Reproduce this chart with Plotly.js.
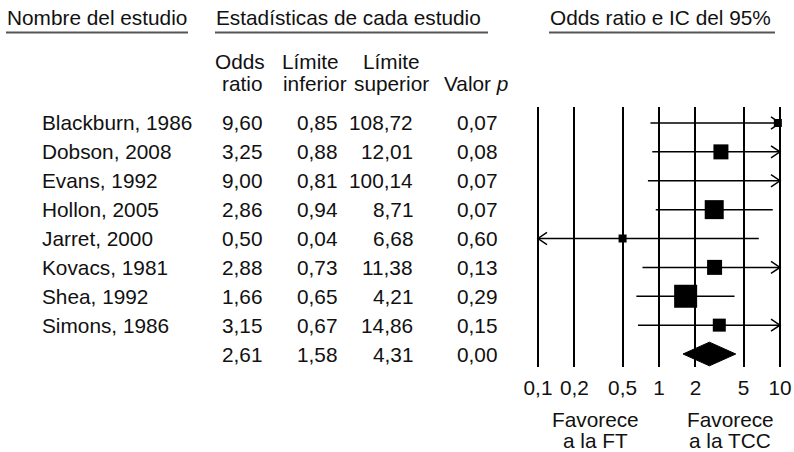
<!DOCTYPE html>
<html>
<head>
<meta charset="utf-8">
<script src="https://cdn.plot.ly/plotly-3.0.1.min.js"></script>
<style>html,body{margin:0;padding:0;background:#fff;}#chart{width:794px;height:452px;}</style>
</head>
<body>
<div id="chart"></div>
<script>
// ---- data ----
const studies = ["Blackburn, 1986", "Dobson, 2008", "Evans, 1992", "Hollon, 2005", "Jarret, 2000", "Kovacs, 1981", "Shea, 1992", "Simons, 1986"];
const oddsRatio = [9.60, 3.25, 9.00, 2.86, 0.50, 2.88, 1.66, 3.15];
const lowerLimit = [0.85, 0.88, 0.81, 0.94, 0.04, 0.73, 0.65, 0.67];
const upperLimit = [108.72, 12.01, 100.14, 8.71, 6.68, 11.38, 4.21, 14.86];
const pValues = [0.07, 0.08, 0.07, 0.07, 0.60, 0.13, 0.29, 0.15];
const summaryOR = 2.61, summaryLower = 1.58, summaryUpper = 4.31, summaryP = 0.00;
const tickVals = [0.1, 0.2, 0.5, 1, 2, 5, 10];
const tickText = ["0,1", "0,2", "0,5", "1", "2", "5", "10"];
const squareSizes = [8, 15, 0, 19, 8, 15, 23, 13];

// ---- helpers / style ----
const W = 794, H = 452;
const FONT = "Liberation Sans, Arial, Helvetica, sans-serif";
const FS = 20.8;
const TXT = "#111";
const px = v => v / W;          // pixel -> paper x
const py = v => 1 - v / H;      // pixel -> paper y
const fmt = v => v.toFixed(2).replace('.', ',');
const xmin = tickVals[0], xmax = tickVals[tickVals.length - 1];
const chevLen = Math.pow(10, 9 / 121);  // ~9 px along log axis
const chevHalf = 0.21;                   // half height in row units
const diamondHalf = 0.41;

const rows = studies.map((_, i) => i);
const summaryRow = studies.length;

// CI segments and chevrons
const segX = [], segY = [], chX = [], chY = [];
rows.forEach(i => {
  segX.push(Math.max(lowerLimit[i], xmin), Math.min(upperLimit[i], xmax), null);
  segY.push(i, i, null);
  if (upperLimit[i] > xmax) {
    chX.push(xmax / chevLen, xmax, xmax / chevLen, null);
    chY.push(i - chevHalf, i, i + chevHalf, null);
  }
  if (lowerLimit[i] < xmin) {
    chX.push(xmin * chevLen, xmin, xmin * chevLen, null);
    chY.push(i - chevHalf, i, i + chevHalf, null);
  }
});

const traces = [
  {x: segX, y: segY, mode: 'lines', line: {color: '#000', width: 1.5}, hoverinfo: 'skip', showlegend: false},
  {x: chX, y: chY, mode: 'lines', line: {color: '#000', width: 1.5}, hoverinfo: 'skip', showlegend: false},
  {x: oddsRatio, y: rows, mode: 'markers', marker: {symbol: 'square', color: '#000', opacity: 1, size: squareSizes, line: {width: 0}}, hoverinfo: 'skip', showlegend: false},
  {x: [summaryLower, summaryOR, summaryUpper, summaryOR, summaryLower],
   y: [summaryRow, summaryRow - diamondHalf, summaryRow, summaryRow + diamondHalf, summaryRow],
   mode: 'lines', fill: 'toself', fillcolor: '#000', line: {color: '#000', width: 1}, hoverinfo: 'skip', showlegend: false}
];

// ---- annotations ----
const ann = [];
const A = (text, x, y, xanchor, yref, extra) => ann.push(Object.assign({
  text: text, x: x, y: y, xref: 'paper', yref: yref || 'paper', xanchor: xanchor, yanchor: 'middle',
  showarrow: false, font: {family: FONT, size: FS, color: TXT}, borderpad: 0
}, extra || {}));

// top headers
A("Nombre del estudio", px(6), py(18), 'left');
A("Estadísticas de cada estudio", px(215), py(18), 'left');
A("Odds ratio e IC del 95%", px(549), py(18), 'left');
// sub headers
A("Odds", px(240), py(61), 'center');
A("ratio", px(242), py(83), 'center');
A("Límite", px(310), py(61), 'center');
A("inferior", px(315), py(83), 'center');
A("Límite", px(391), py(61), 'center');
A("superior", px(391), py(83), 'center');
A("Valor <i>p</i>", px(476), py(83), 'center');

// rows
rows.forEach(i => {
  A(studies[i], px(41), i, 'left', 'y');
  A(fmt(oddsRatio[i]), px(263), i, 'right', 'y');
  A(fmt(lowerLimit[i]), px(338), i, 'right', 'y');
  A(fmt(upperLimit[i]), px(414), i, 'right', 'y');
  A(fmt(pValues[i]), px(498), i, 'right', 'y');
});
A(fmt(summaryOR), px(263), summaryRow, 'right', 'y');
A(fmt(summaryLower), px(338), summaryRow, 'right', 'y');
A(fmt(summaryUpper), px(414), summaryRow, 'right', 'y');
A(fmt(summaryP), px(498), summaryRow, 'right', 'y');

// bottom labels
A("Favorece", px(595), py(419), 'center');
A("a la FT", px(595), py(440), 'center');
A("Favorece", px(730), py(419), 'center');
A("a la TCC", px(730), py(440), 'center');

// underlines
const ul = (x0, x1) => ({type: 'line', xref: 'paper', yref: 'paper', x0: px(x0), x1: px(x1), y0: py(32.5), y1: py(32.5), line: {color: '#555', width: 2}});
const shapes = [ul(6, 188), ul(215, 488), ul(549, 775)];

const pad = 0.016;
const layout = {
  width: W, height: H,
  margin: {l: 0, r: 0, t: 0, b: 0},
  paper_bgcolor: '#fff', plot_bgcolor: '#fff',
  font: {family: FONT, size: FS, color: TXT},
  xaxis: {
    type: 'log',
    domain: [px(538 - pad * 121), px(780 + pad * 121)],
    range: [Math.log10(xmin) - pad, Math.log10(xmax) + pad],
    tickvals: tickVals, ticktext: tickText,
    showgrid: true, gridcolor: '#000', gridwidth: 2,
    zeroline: false, showline: false, ticks: '',
    ticklabelstandoff: 6,
    tickfont: {family: FONT, size: FS, color: TXT},
    fixedrange: true
  },
  yaxis: {
    domain: [py(367), py(107)],
    range: [summaryRow + 0.45, -0.554],
    showgrid: false, zeroline: false, showline: false, showticklabels: false, ticks: '',
    fixedrange: true
  },
  annotations: ann,
  shapes: shapes,
  showlegend: false
};

Plotly.newPlot('chart', traces, layout, {displayModeBar: false, staticPlot: true});
</script>
</body>
</html>
